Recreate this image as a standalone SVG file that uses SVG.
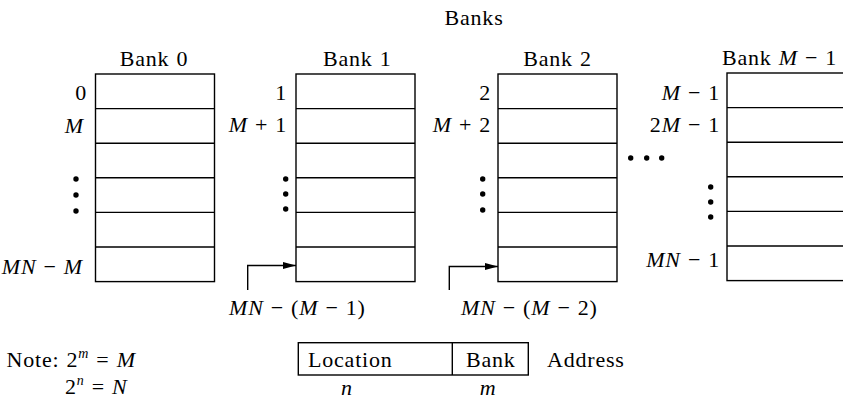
<svg xmlns="http://www.w3.org/2000/svg" width="843" height="401" viewBox="0 0 843 401">
  <style>
    text { font-family: "Liberation Serif", "Times New Roman", serif; font-size: 22px; fill: #000; letter-spacing: 0.8px; word-spacing: 0.8px; }
    .lbl { text-anchor: end; }
    .it { font-style: italic; }
    .cell { fill: #fff; stroke: #000; stroke-width: 1.4; }
    .row { stroke: #000; stroke-width: 1.4; }
    .dot { fill: #000; }
    .conn { fill: none; stroke: #000; stroke-width: 1.4; }
  </style>
  <defs>
    <marker id="arr" markerWidth="14" markerHeight="8" refX="13" refY="4" orient="auto" markerUnits="userSpaceOnUse">
      <path d="M0,0.5 L13,4 L0,7.5 Z" fill="#000"/>
    </marker>
    <g id="rows">
      <line class="row" x1="0" y1="34.6" x2="119" y2="34.6"/>
      <line class="row" x1="0" y1="69.2" x2="119" y2="69.2"/>
      <line class="row" x1="0" y1="103.8" x2="119" y2="103.8"/>
      <line class="row" x1="0" y1="138.4" x2="119" y2="138.4"/>
      <line class="row" x1="0" y1="173" x2="119" y2="173"/>
    </g>
  </defs>
  <rect width="843" height="401" fill="#fff"/>

  <g id="title">
    <text x="474" y="25" text-anchor="middle">Banks</text>
  </g>

  <g id="bank0">
    <text x="154" y="66" text-anchor="middle">Bank 0</text>
    <rect class="cell" x="95.5" y="74" width="119" height="207.6"/>
    <use href="#rows" x="95.5" y="74"/>
    <text class="lbl" x="87" y="100">0</text>
    <text class="lbl it" x="84" y="133">M</text>
    <circle class="dot" cx="76" cy="179" r="2.7"/>
    <circle class="dot" cx="76" cy="195" r="2.7"/>
    <circle class="dot" cx="76" cy="211" r="2.7"/>
    <text class="lbl" x="83" y="274"><tspan class="it">MN</tspan> − <tspan class="it">M</tspan></text>
  </g>

  <g id="bank1">
    <text x="323" y="66">Bank 1</text>
    <rect class="cell" x="296" y="74" width="119" height="207.6"/>
    <use href="#rows" x="296" y="74"/>
    <text class="lbl" x="287" y="100">1</text>
    <text class="lbl" x="287" y="132"><tspan class="it">M</tspan> + 1</text>
    <circle class="dot" cx="285.7" cy="179" r="2.7"/>
    <circle class="dot" cx="285.7" cy="194" r="2.7"/>
    <circle class="dot" cx="285.7" cy="209" r="2.7"/>
  </g>

  <g id="bank2">
    <text x="557.5" y="66" text-anchor="middle">Bank 2</text>
    <rect class="cell" x="498" y="74" width="119" height="207.6"/>
    <use href="#rows" x="498" y="74"/>
    <text class="lbl" x="491" y="100">2</text>
    <text class="lbl" x="491" y="132"><tspan class="it">M</tspan> + 2</text>
    <circle class="dot" cx="482.7" cy="179" r="2.7"/>
    <circle class="dot" cx="482.7" cy="194" r="2.7"/>
    <circle class="dot" cx="482.7" cy="210" r="2.7"/>
  </g>

  <g id="ellipsis">
    <circle class="dot" cx="630.7" cy="158" r="2.7"/>
    <circle class="dot" cx="646.7" cy="158" r="2.7"/>
    <circle class="dot" cx="661.7" cy="158" r="2.7"/>
  </g>

  <g id="bankM1">
    <text x="722" y="65">Bank <tspan class="it">M</tspan> − 1</text>
    <rect class="cell" x="727" y="73" width="119" height="207.6"/>
    <use href="#rows" x="727" y="73"/>
    <text class="lbl" x="720" y="100"><tspan class="it">M</tspan> − 1</text>
    <text class="lbl" x="720" y="132">2<tspan class="it">M</tspan> − 1</text>
    <circle class="dot" cx="710.7" cy="187" r="2.7"/>
    <circle class="dot" cx="710.7" cy="202" r="2.7"/>
    <circle class="dot" cx="710.7" cy="217" r="2.7"/>
    <text class="lbl" x="720" y="267"><tspan class="it">MN</tspan> − 1</text>
  </g>

  <g id="connectors">
    <path class="conn" d="M247.7,290 V265.5 H296" marker-end="url(#arr)"/>
    <text x="229" y="315"><tspan class="it">MN</tspan> − (<tspan class="it">M</tspan> − 1)</text>
    <path class="conn" d="M449.3,290 V266.5 H498" marker-end="url(#arr)"/>
    <text x="461" y="315"><tspan class="it">MN</tspan> − (<tspan class="it">M</tspan> − 2)</text>
  </g>

  <g id="note">
    <text x="6.5" y="367">Note: 2<tspan class="it" font-size="14" dy="-9">m</tspan><tspan dy="9"> = </tspan><tspan class="it">M</tspan></text>
    <text x="65" y="394">2<tspan class="it" font-size="14" dy="-9">n</tspan><tspan dy="9"> = </tspan><tspan class="it">N</tspan></text>
  </g>

  <g id="address">
    <rect class="cell" x="298.3" y="342.7" width="230" height="32.3"/>
    <line class="row" x1="452.3" y1="342.7" x2="452.3" y2="375"/>
    <text x="308" y="366.5">Location</text>
    <text x="466" y="366.5">Bank</text>
    <text x="547" y="366.5">Address</text>
    <text class="it" x="347" y="395" text-anchor="middle">n</text>
    <text class="it" x="488" y="395" text-anchor="middle">m</text>
  </g>
</svg>
